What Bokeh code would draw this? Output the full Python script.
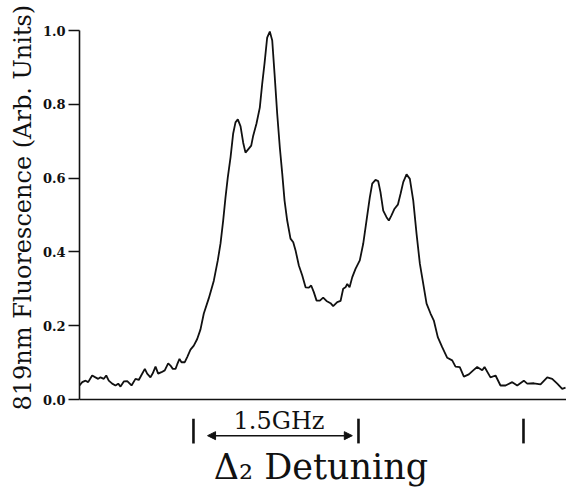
from bokeh.plotting import figure
from bokeh.models import Range1d, FixedTicker, Arrow, NormalHead, Span, Title
from bokeh.core.properties import value
from bokeh.embed import file_html
from bokeh.resources import INLINE

# ---- data ----
detuning_ghz = [
    0.000, 0.025, 0.055, 0.079, 0.115, 0.145, 0.170, 0.191, 0.221, 0.243,
    0.266, 0.297, 0.327, 0.352, 0.373, 0.403, 0.434, 0.473, 0.509, 0.539,
    0.561, 0.594, 0.615, 0.645, 0.666, 0.691, 0.715, 0.745, 0.775, 0.806,
    0.827, 0.848, 0.873, 0.888, 0.909, 0.927, 0.957, 0.979, 1.009, 1.039,
    1.070, 1.100, 1.130, 1.175, 1.221, 1.257, 1.282, 1.306, 1.327, 1.348,
    1.373, 1.397, 1.418, 1.439, 1.464, 1.488, 1.509, 1.539, 1.561, 1.579,
    1.609, 1.639, 1.661, 1.682, 1.706, 1.730, 1.752, 1.773, 1.797, 1.821,
    1.843, 1.864, 1.888, 1.918, 1.943, 1.964, 1.994, 2.025, 2.055, 2.085,
    2.106, 2.130, 2.155, 2.185, 2.215, 2.245, 2.282, 2.306, 2.343, 2.373,
    2.397, 2.418, 2.434, 2.455, 2.479, 2.509, 2.548, 2.579, 2.609, 2.639,
    2.661, 2.691, 2.715, 2.736, 2.761, 2.791, 2.812, 2.836, 2.864, 2.894,
    2.918, 2.943, 2.973, 3.003, 3.034, 3.064, 3.094, 3.115, 3.155, 3.191,
    3.221, 3.257, 3.297, 3.343, 3.388, 3.418, 3.457, 3.494, 3.539, 3.579,
    3.615, 3.661, 3.682, 3.736, 3.782, 3.827, 3.873, 3.934, 3.979, 4.039,
    4.070, 4.130, 4.191, 4.252, 4.297, 4.343, 4.388, 4.418,
]
fluorescence = [
    0.038, 0.047, 0.051, 0.047, 0.065, 0.060, 0.056, 0.060, 0.056, 0.065,
    0.051, 0.043, 0.038, 0.043, 0.035, 0.049, 0.050, 0.038, 0.056, 0.053,
    0.065, 0.083, 0.070, 0.060, 0.071, 0.089, 0.070, 0.074, 0.079, 0.098,
    0.092, 0.083, 0.083, 0.095, 0.110, 0.101, 0.101, 0.115, 0.135, 0.146,
    0.164, 0.190, 0.233, 0.274, 0.322, 0.377, 0.423, 0.485, 0.547, 0.602,
    0.656, 0.721, 0.751, 0.759, 0.740, 0.696, 0.669, 0.680, 0.688, 0.715,
    0.748, 0.791, 0.856, 0.911, 0.981, 0.997, 0.973, 0.883, 0.775, 0.683,
    0.612, 0.539, 0.485, 0.436, 0.426, 0.404, 0.363, 0.336, 0.304, 0.303,
    0.309, 0.291, 0.268, 0.268, 0.276, 0.267, 0.261, 0.253, 0.264, 0.267,
    0.300, 0.304, 0.313, 0.304, 0.331, 0.354, 0.377, 0.422, 0.485, 0.548,
    0.585, 0.595, 0.592, 0.562, 0.512, 0.494, 0.485, 0.499, 0.517, 0.528,
    0.557, 0.589, 0.610, 0.598, 0.539, 0.449, 0.368, 0.331, 0.260, 0.233,
    0.214, 0.169, 0.142, 0.113, 0.106, 0.089, 0.088, 0.062, 0.068, 0.079,
    0.088, 0.079, 0.088, 0.060, 0.065, 0.038, 0.038, 0.047, 0.038, 0.051,
    0.043, 0.044, 0.041, 0.060, 0.056, 0.043, 0.029, 0.032,
]
y_ticks = [0.0, 0.2, 0.4, 0.6, 0.8, 1.0]
y_tick_labels = ["0.0", "0.2", "0.4", "0.6", "0.8", "1.0"]
y_title = "819nm Fluorescence (Arb. Units)"

marker_ghz = [1.036, 2.536, 4.036]          # scale marks, 1.5 GHz apart
span_arrow_ghz = [1.164, 2.480]              # arrow between first two marks
span_label = "1.5GHz"
span_label_ghz = [1.814]
x_title = "\u0394\u2082 Detuning"
x_title_ghz = [2.195]

# annotation placement (in the plot's own units, below the zero line)
mark_top, mark_bottom = -0.052, -0.119
arrow_level = -0.098
span_label_level = -0.058
x_title_level = -0.184

FONT = "DejaVu Serif"
INK = "#111111"

p = figure(width=566, height=489, output_backend="svg", toolbar_location=None,
           x_range=Range1d(0, 4.427), y_range=Range1d(-0.2439, 1.0),
           x_axis_location=None,
           min_border_left=79, min_border_right=0, min_border_top=30,
           min_border_bottom=0)
p.outline_line_color = None
p.grid.visible = False
p.background_fill_color = "white"
p.border_fill_color = "white"

p.line(detuning_ghz, fluorescence, line_color=INK, line_width=1.8)

# zero line acting as the horizontal axis
p.add_layout(Span(location=0, dimension="width", line_color=INK, line_width=1.6))

ya = p.yaxis[0]
ya.bounds = (0, 1)
ya.ticker = FixedTicker(ticks=y_ticks)
ya.major_label_overrides = {t: s for t, s in zip(y_ticks, y_tick_labels)}
ya.major_tick_out = 11
ya.major_tick_in = 0
ya.minor_tick_line_color = None
ya.major_label_standoff = 3
ya.major_label_text_font = FONT
ya.major_label_text_font_size = "13px"
ya.major_label_text_font_style = "bold"
ya.major_label_text_color = INK
ya.axis_line_width = 1.6
ya.axis_line_color = INK
ya.major_tick_line_width = 1.4
ya.major_tick_line_color = INK

# vertical axis title, placed beside the 0..1 part of the axis
p.add_layout(Title(text=y_title, align="left", offset=79,
                   text_font=FONT, text_font_size="24px",
                   text_font_style="normal", text_color=INK, standoff=6), "left")

# scale annotation beneath the trace
p.segment(x0=marker_ghz, x1=marker_ghz, y0=[mark_top] * len(marker_ghz),
          y1=[mark_bottom] * len(marker_ghz), line_color=INK, line_width=2.6)
p.add_layout(Arrow(x_start=span_arrow_ghz[0], x_end=span_arrow_ghz[1],
                   y_start=arrow_level, y_end=arrow_level,
                   line_color=INK, line_width=1.5,
                   start=NormalHead(size=8, fill_color=INK, line_color=INK),
                   end=NormalHead(size=8, fill_color=INK, line_color=INK)))
p.text(x=span_label_ghz, y=[span_label_level], text=[span_label],
       text_font=value(FONT), text_font_size="24px", text_align="center",
       text_baseline="middle", text_color=INK)
p.text(x=x_title_ghz, y=[x_title_level], text=[x_title], text_font=value(FONT),
       text_font_size="35px", text_align="center", text_baseline="middle",
       text_color=INK)

open("out.html", "w").write(file_html(p, INLINE))
